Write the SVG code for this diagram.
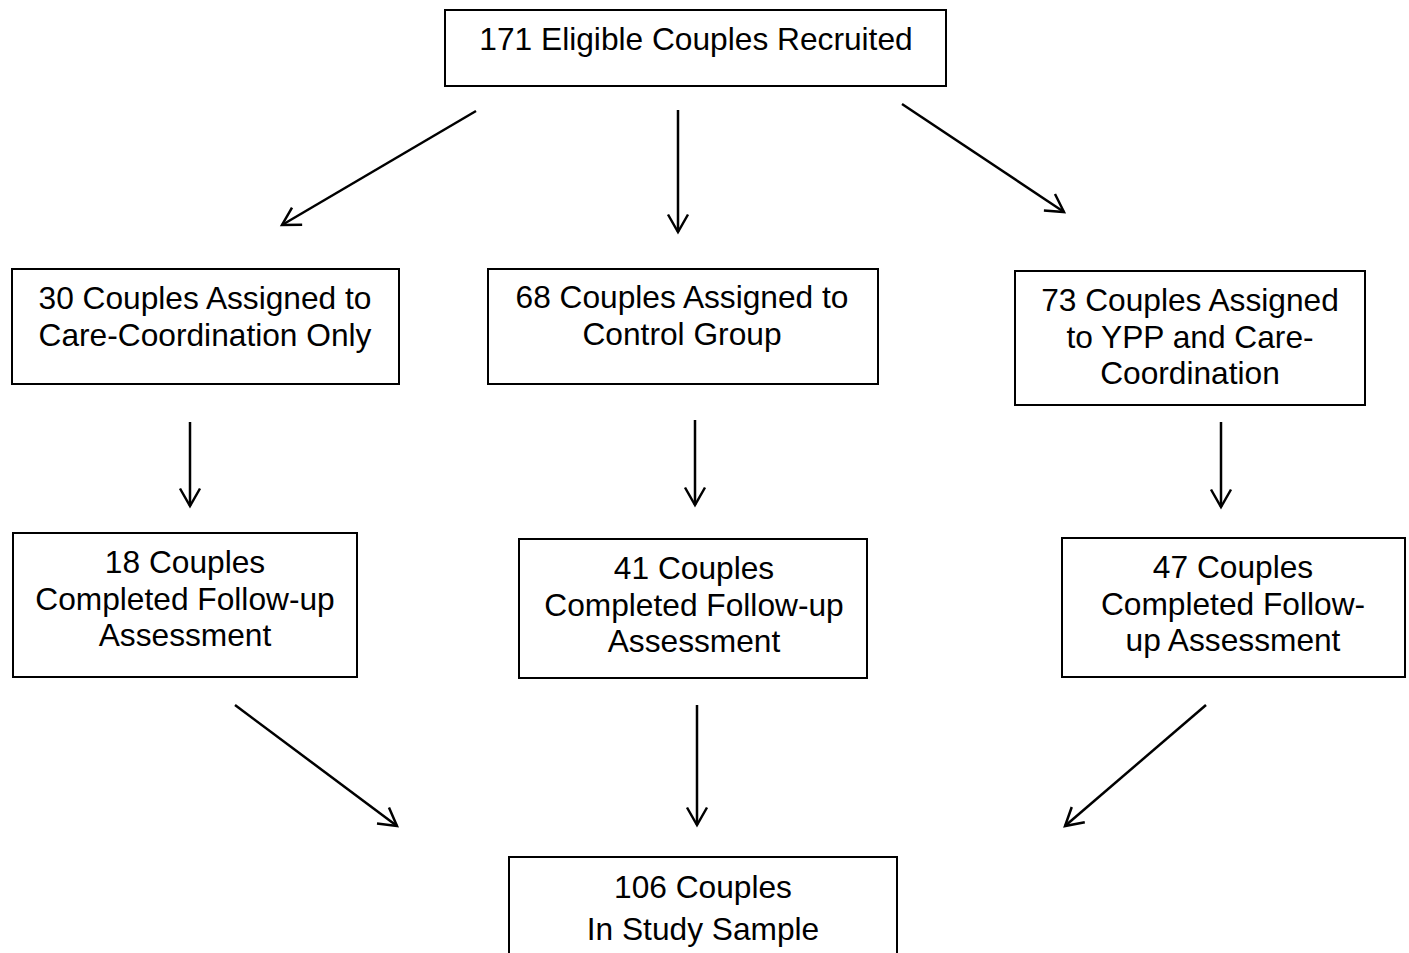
<svg xmlns="http://www.w3.org/2000/svg" width="1409" height="953" viewBox="0 0 1409 953">
<defs>
<style>
.box{fill:#fff;stroke:#000;stroke-width:2}
.t{font-family:"Liberation Sans",Arial,sans-serif;font-size:31.7px;fill:#000;text-anchor:middle}
.c{fill:none;stroke:#000;stroke-width:2.5}
</style>
<marker id="ah" markerUnits="userSpaceOnUse" markerWidth="30" markerHeight="30" viewBox="-24 -15 30 30" refX="0" refY="0" orient="auto" overflow="visible">
<path d="M-17.5,-10 L0,0 L-17.5,10" fill="none" stroke="#000" stroke-width="2.5"/>
</marker>
</defs>
<rect width="1409" height="953" fill="#fff"/>
<g id="connectors">
<line class="c" x1="476" y1="111" x2="282" y2="225" marker-end="url(#ah)"/>
<line class="c" x1="678" y1="110" x2="678" y2="232" marker-end="url(#ah)"/>
<line class="c" x1="902" y1="104" x2="1064" y2="212" marker-end="url(#ah)"/>
<line class="c" x1="190" y1="422" x2="190" y2="506" marker-end="url(#ah)"/>
<line class="c" x1="695" y1="420" x2="695" y2="505" marker-end="url(#ah)"/>
<line class="c" x1="1221" y1="422" x2="1221" y2="507" marker-end="url(#ah)"/>
<line class="c" x1="235" y1="705" x2="397" y2="826" marker-end="url(#ah)"/>
<line class="c" x1="697" y1="705" x2="697" y2="825" marker-end="url(#ah)"/>
<line class="c" x1="1206" y1="705" x2="1065" y2="826" marker-end="url(#ah)"/>
</g>
<g id="n_recruited">
<rect class="box" x="445" y="10" width="501" height="76"/>
<text class="t" x="696" y="50">171 Eligible Couples Recruited</text>
</g>
<g id="n_carecoord">
<rect class="box" x="12" y="269" width="387" height="115"/>
<text class="t" x="205" y="309">30 Couples Assigned to</text>
<text class="t" x="205" y="346">Care-Coordination Only</text>
</g>
<g id="n_control">
<rect class="box" x="488" y="269" width="390" height="115"/>
<text class="t" x="682" y="308">68 Couples Assigned to</text>
<text class="t" x="682" y="345">Control Group</text>
</g>
<g id="n_ypp">
<rect class="box" x="1015" y="271" width="350" height="134"/>
<text class="t" x="1190" y="311">73 Couples Assigned</text>
<text class="t" x="1190" y="348">to YPP and Care-</text>
<text class="t" x="1190" y="384">Coordination</text>
</g>
<g id="n_fu_carecoord">
<rect class="box" x="13" y="533" width="344" height="144"/>
<text class="t" x="185" y="573">18 Couples</text>
<text class="t" x="185" y="610">Completed Follow-up</text>
<text class="t" x="185" y="646">Assessment</text>
</g>
<g id="n_fu_control">
<rect class="box" x="519" y="539" width="348" height="139"/>
<text class="t" x="694" y="579">41 Couples</text>
<text class="t" x="694" y="616">Completed Follow-up</text>
<text class="t" x="694" y="652">Assessment</text>
</g>
<g id="n_fu_ypp">
<rect class="box" x="1062" y="538" width="343" height="139"/>
<text class="t" x="1233" y="578">47 Couples</text>
<text class="t" x="1233" y="615">Completed Follow-</text>
<text class="t" x="1233" y="651">up Assessment</text>
</g>
<g id="n_sample">
<rect class="box" x="509" y="857" width="388" height="110"/>
<text class="t" x="703" y="898">106 Couples</text>
<text class="t" x="703" y="940">In Study Sample</text>
</g>
</svg>
